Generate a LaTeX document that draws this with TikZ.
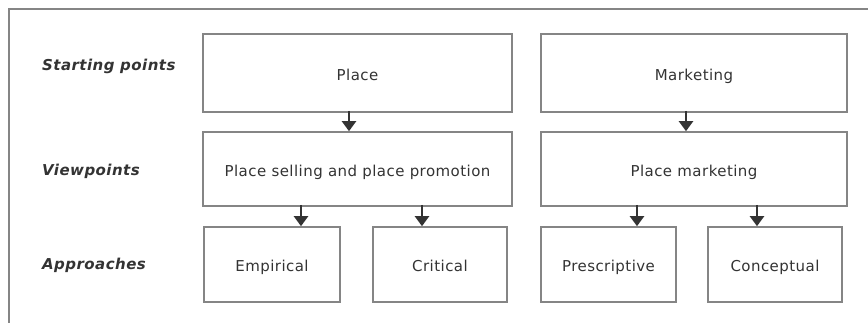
\documentclass[tikz,border=0pt]{standalone}
\usepackage{fontspec}
\setmainfont{DejaVu Sans}
\newfontfamily\boxfont[LetterSpace=3]{DejaVu Sans}
\usetikzlibrary{arrows.meta}

\definecolor{boxgray}{HTML}{858585}
\definecolor{inkgray}{HTML}{333333}

\begin{document}
\begin{tikzpicture}[
x=1pt, y=-1pt,
box/.style={rectangle, draw=boxgray, line width=1.6pt, text=inkgray, inner sep=0pt, text height=15pt, text depth=0pt, font=\boxfont\fontsize{15}{17}\selectfont},
arrow/.style={draw=inkgray, line width=2.2pt, -{Triangle[width=14pt,length=10pt]}},
info/.style={draw=none, fill=none, inner sep=0pt, anchor=west, text=inkgray, font=\boxfont\fontsize{15}{17}\selectfont\bfseries\itshape},
frame/.style={draw=boxgray, line width=2pt}]

%% local variables
\def \W {868}
\def \H {323}
\def \wide {309}
\def \narrow {136}

\useasboundingbox (0,0) rectangle (\W,\H);

%% outer frame (open to the right and bottom)
\draw[frame] (9,\H) -- (9,9) -- (\W,9);

%% row labels
\node[info] (start) at (42,66) {Starting points};
\node[info] (view) at (42,171) {Viewpoints};
\node[info] (appr) at (42,265) {Approaches};

%% starting points
\node[box, minimum width=\wide pt, minimum height=78pt] (place) at (357.5,73) {Place};
\node[box, minimum width=306pt, minimum height=78pt] (marketing) at (694,73) {Marketing};

%% viewpoints
\node[box, minimum width=\wide pt, minimum height=74pt] (selling) at (357.5,169) {Place selling and place promotion};
\node[box, minimum width=306pt, minimum height=74pt] (placemkt) at (694,169) {Place marketing};

%% approaches
\node[box, minimum width=\narrow pt, minimum height=75pt] (empirical) at (272,264.5) {Empirical};
\node[box, minimum width=134pt, minimum height=75pt] (critical) at (440,264.5) {Critical};
\node[box, minimum width=135pt, minimum height=75pt] (prescriptive) at (608.5,264.5) {Prescriptive};
\node[box, minimum width=134pt, minimum height=75pt] (conceptual) at (775,264.5) {Conceptual};

%% arrows
\draw[arrow] ([xshift=-8.5pt,yshift=2pt]place.south) -- ([xshift=-8.5pt]place.south |- selling.north);
\draw[arrow] ([xshift=-8pt,yshift=2pt]marketing.south) -- ([xshift=-8pt]marketing.south |- placemkt.north);
\foreach \lo/\up/\dx in {empirical/selling/29, critical/selling/-18, prescriptive/placemkt/28.5, conceptual/placemkt/-18}
      \draw[arrow] ([xshift=\dx pt,yshift=2pt]\lo.north |- \up.south) -- ([xshift=\dx pt]\lo.north);

\end{tikzpicture}
\end{document}
